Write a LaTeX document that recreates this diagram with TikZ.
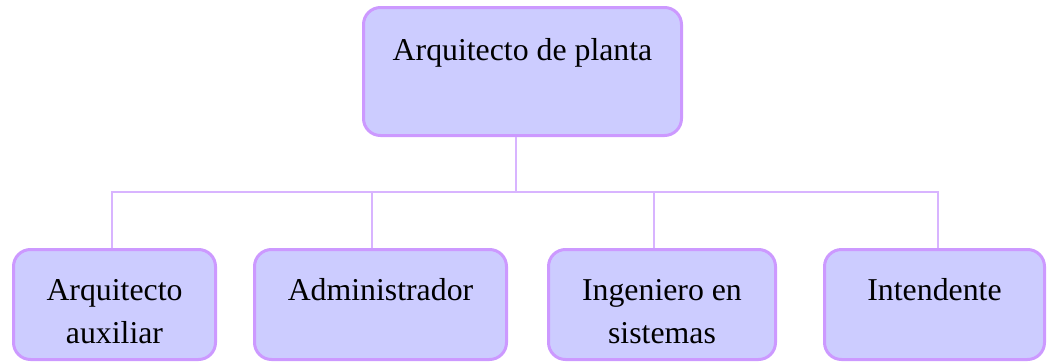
\documentclass[tikz,border=0pt]{standalone}
\usepackage{fontspec}
\setmainfont{Liberation Serif}
\newcommand{\boxlabel}[2]{\parbox[t]{#1}{\centering\strut #2}}
\begin{document}
\begin{tikzpicture}[x=1pt,y=-1pt]
        % Colors
        \definecolor{boxfill}{RGB}{204,204,255}
        \definecolor{boxborder}{RGB}{204,153,255}
        \definecolor{linkcolor}{RGB}{216,180,255}
        % Styles
        \tikzstyle{box}=[draw=boxborder,fill=boxfill,line width=3pt,rounded corners=17pt,
            inner xsep=0pt,inner ysep=20.9pt,anchor=north,font=\fontsize{31.8}{43}\selectfont]
        \tikzstyle{head box}=[box,text height=32.1pt,text depth=54.1pt]
        \tikzstyle{staff box}=[box,text height=30.1pt,text depth=38.1pt]
        \tikzstyle{link}=[draw=linkcolor,line width=1.5pt]
        \useasboundingbox (0,0) rectangle (1047,362);
        %The graphic
        \node[head box] (top) at (522.5,6) {\boxlabel{318pt}{Arquitecto de planta}};
        \node[staff box] (b1) at (114.5,248) {\boxlabel{202pt}{Arquitecto\\auxiliar}};
        \node[staff box] (b2) at (380.5,248) {\boxlabel{252pt}{Administrador}};
        \node[staff box] (b3) at (662,248) {\boxlabel{227pt}{Ingeniero en\\sistemas}};
        \node[staff box] (b4) at (934.5,248) {\boxlabel{220pt}{Intendente}};
        \coordinate (hub) at (516,192);
        \draw[link] ([xshift=-6.5pt]top.south) -- (hub);
        \foreach \n/\dx in {b1/-2.5,b2/-8.5,b3/-8,b4/3.5}
            \draw[link] (hub) -| ([xshift=\dx pt]\n.north);
    \end{tikzpicture}
\end{document}
